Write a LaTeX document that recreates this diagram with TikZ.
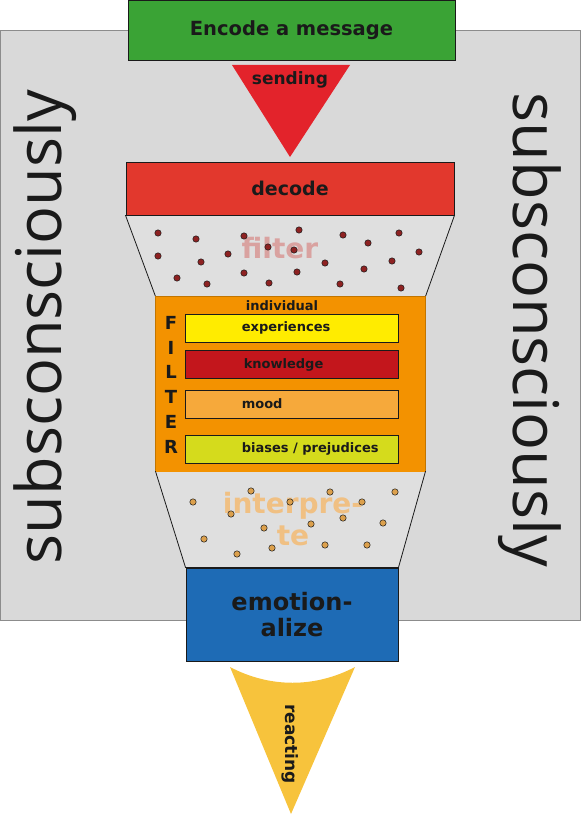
\documentclass[tikz,border=0pt]{standalone}
\usepackage{fontspec}
\setmainfont{Liberation Sans}
\newfontfamily\thinfont{Open Sans}
\newfontfamily\labelfont{DejaVu Sans}
\usetikzlibrary{positioning}
\definecolor{ink}{HTML}{1A1A1A}
\definecolor{backgray}{HTML}{D9D9D9}
\definecolor{encgreen}{HTML}{3AA335}
\definecolor{sendred}{HTML}{E3232B}
\definecolor{decred}{HTML}{E2382D}
\definecolor{fltorange}{HTML}{F39200}
\definecolor{expyellow}{HTML}{FFEC00}
\definecolor{knowred}{HTML}{C3161C}
\definecolor{moodorange}{HTML}{F6A93B}
\definecolor{biasgreen}{HTML}{D5DB1C}
\definecolor{emoblue}{HTML}{1E6BB5}
\definecolor{reactyellow}{HTML}{F7C33C}
\definecolor{filtpink}{HTML}{D9A2A0}
\definecolor{interorange}{HTML}{F0C083}
\definecolor{dotred}{HTML}{8E2222}
\definecolor{dotorange}{HTML}{DCA04C}
\newcommand{\lbl}[1]{\labelfont\bfseries\fontsize{#1}{#1}\selectfont}
\tikzset{stage/.style={draw=ink,line width=0.9pt,inner sep=0pt,align=center,text=ink},
         bar/.style={stage,minimum width=213pt,minimum height=28pt,line width=0.8pt},
         barlabel/.style={font=\lbl{13},text=ink,inner sep=0pt},
         ghost/.style={font=\lbl{28},inner sep=0pt,align=center},
         side/.style={font=\thinfont\fontsize{63}{63}\selectfont\color{ink},inner sep=0pt},
         redot/.style={draw=ink,fill=dotred,line width=0.5pt},
         ordot/.style={draw=ink,fill=dotorange,line width=0.5pt},
         funnel/.style={draw=ink,line width=0.8pt,fill=backgray!85!white}
         }
\begin{document}
\begin{tikzpicture}[x=1pt,y=-1pt]
\useasboundingbox (0,0) rectangle (581,816);
% grey ground
\filldraw[fill=backgray,draw=black!45,line width=0.6pt] (0.5,30) rectangle (580.5,620);
\node[side,rotate=90] (subl) at (45,327) {subsconsciously};
\node[side,rotate=-90] (subr) at (530,330) {subsconsciously};
% encode and send
\node[stage,fill=encgreen,minimum width=327pt,minimum height=60pt,font=\lbl{19.5}] (enc) at (291.5,30) {Encode a message};
\fill[sendred] (232,65) -- (350,65) -- (290,157) -- cycle;
\node[font=\lbl{17},text=ink,inner sep=0pt] (send) at (290,80) {sending};
% decode
\node[stage,fill=decred,minimum width=328pt,minimum height=53pt,font=\lbl{19}] (dec) at (290,188.5) {decode};
% the filter
\node[stage,fill=fltorange,minimum width=269pt,minimum height=174pt,draw=none] (flt) at (290.5,384) {};
\draw[funnel] (dec.south west) -- (dec.south east) -- (flt.north east) -- (flt.north west) -- cycle;
\node[ghost,text=filtpink] (filt) at (280,248) {filter};
\foreach \x/\y in {158/233,196/239,244/236,299/230,343/235,399/233,368/243,158/256,
                   201/262,228/254,268/247,294/250,325/263,419/252,392/261,364/269,
                   177/278,207/284,244/273,269/283,297/272,340/284,401/288}
  \draw[redot] (\x,\y) circle (3.2pt);
\node[bar,fill=expyellow] (exp) at (291.5,328) {};
\node[bar,fill=knowred,below=8pt of exp] (know) {};
\node[bar,fill=moodorange,below=11pt of know] (mood) {};
\node[bar,fill=biasgreen,below=16pt of mood] (bias) {};
\node[barlabel,right=57pt of exp.west] (expl) {experiences};
\node[barlabel,right=59pt of know.west] (knowl) {knowledge};
\node[barlabel,right=57pt of mood.west,yshift=1pt] (moodl) {mood};
\node[barlabel,right=57pt of bias.west] (biasl) {biases / prejudices};
\node[barlabel] (indiv) at (282,306) {individual};
\foreach \c [count=\i] in {F,I,L,T,E,R}
  \node[font=\lbl{18},text=ink,inner sep=0pt] (let\i) at (171,298+24.8*\i) {\c};
\draw[fltorange!80!black,line width=0.8pt] (flt.north west) rectangle (flt.south east);
% interpret
\node[stage,fill=emoblue,minimum width=212pt,minimum height=93pt,font=\lbl{24}] (emo) at (292,614.5) {emotion-\\[2pt]alize};
\draw[funnel] (flt.south west) -- (flt.south east) -- (emo.north east) -- (emo.north west) -- cycle;
\draw[fltorange,line width=1pt] (flt.south west) -- (flt.south east);
\node[ghost,text=interorange] (inter) at (293,519) {interpre-\\[4pt]te};
\foreach \x/\y in {193/502,251/491,290/502,330/492,362/502,395/492,231/514,264/528,
                   311/524,343/518,383/523,204/539,237/554,272/548,325/545,367/545}
  \draw[ordot] (\x,\y) circle (3.2pt);
% reacting
\fill[reactyellow] (230,667) .. controls (270,688) and (315,688) .. (355,667) -- (291,814) -- cycle;
\node[font=\lbl{17},text=ink,inner sep=0pt,rotate=-90] (react) at (290,744) {reacting};
\end{tikzpicture}
\end{document}
